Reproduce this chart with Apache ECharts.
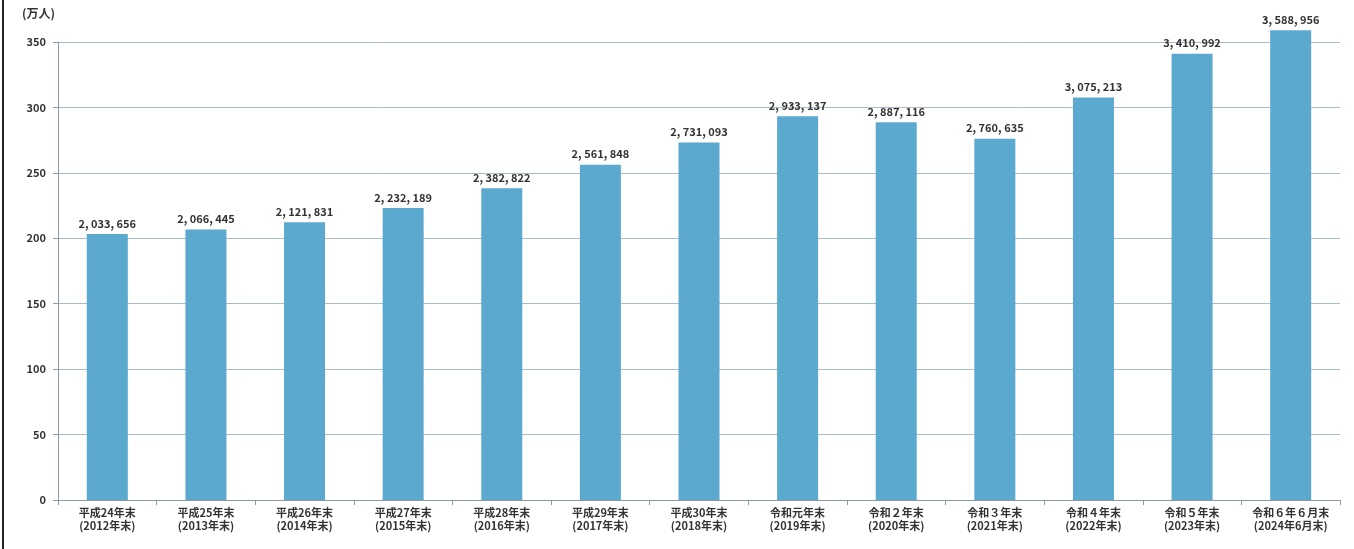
<!DOCTYPE html>
<html><head><meta charset="utf-8">
<script src="https://cdn.jsdelivr.net/npm/echarts@6/dist/echarts.min.js"></script>
<style>html,body{margin:0;padding:0;background:#fff;}#c{width:1354px;height:549px;}</style>
</head><body><div id="c"></div>
<script>
const categories = ['平成24年末\n(2012年末)','平成25年末\n(2013年末)','平成26年末\n(2014年末)','平成27年末\n(2015年末)','平成28年末\n(2016年末)','平成29年末\n(2017年末)','平成30年末\n(2018年末)','令和元年末\n(2019年末)','令和２年末\n(2020年末)','令和３年末\n(2021年末)','令和４年末\n(2022年末)','令和５年末\n(2023年末)','令和６年６月末\n(2024年6月末)'];
const persons = [2033656,2066445,2121831,2232189,2382822,2561848,2731093,2933137,2887116,2760635,3075213,3410992,3588956];
const yTicks = [0,50,100,150,200,250,300,350];
const values = persons.map(v => v / 10000);
const chart = echarts.init(document.getElementById('c'));
chart.setOption({
  backgroundColor: '#ffffff',
  animation: false,
  textStyle: {fontFamily: 'Noto Sans CJK JP'},
  grid: {left: 58, right: 14, top: 42, bottom: 49},
  graphic: [
    {type: 'text', left: 22, top: 7, style: {text: '(万人)', fontSize: 12, fontWeight: 'bold', fill: '#333', fontFamily: 'Noto Sans CJK JP'}},
    {type: 'rect', shape: {x: 2, y: 0, width: 2, height: 549}, style: {fill: '#222'}}
  ],
  xAxis: {
    type: 'category', data: categories,
    axisLine: {lineStyle: {color: '#8a9aa6', width: 1}},
    axisTick: {show: true, alignWithLabel: false, lineStyle: {color: '#8a9aa6'}},
    axisLabel: {fontSize: 11, color: '#333', fontWeight: 'bold', lineHeight: 13, margin: 6, interval: 0}
  },
  yAxis: {
    type: 'value', min: 0, max: 350, interval: 50,
    axisLine: {show: true, lineStyle: {color: '#8a9aa6'}},
    axisTick: {show: true, lineStyle: {color: '#8a9aa6'}},
    splitLine: {lineStyle: {color: '#a9bccb', width: 1}},
    axisLabel: {fontSize: 11, color: '#333', fontWeight: 'bold', margin: 12,
      formatter: v => yTicks.includes(v) ? String(v) : ''}
  },
  series: [{
    type: 'bar', data: values, barWidth: 41, clip: false,
    itemStyle: {color: '#5ba9cf'},
    label: {show: true, position: 'top', distance: 5, fontSize: 11, fontWeight: 'bold', color: '#333',
      formatter: p => persons[p.dataIndex].toLocaleString('en-US').replace(/,/g, ', ')}
  }]
});
</script></body></html>
